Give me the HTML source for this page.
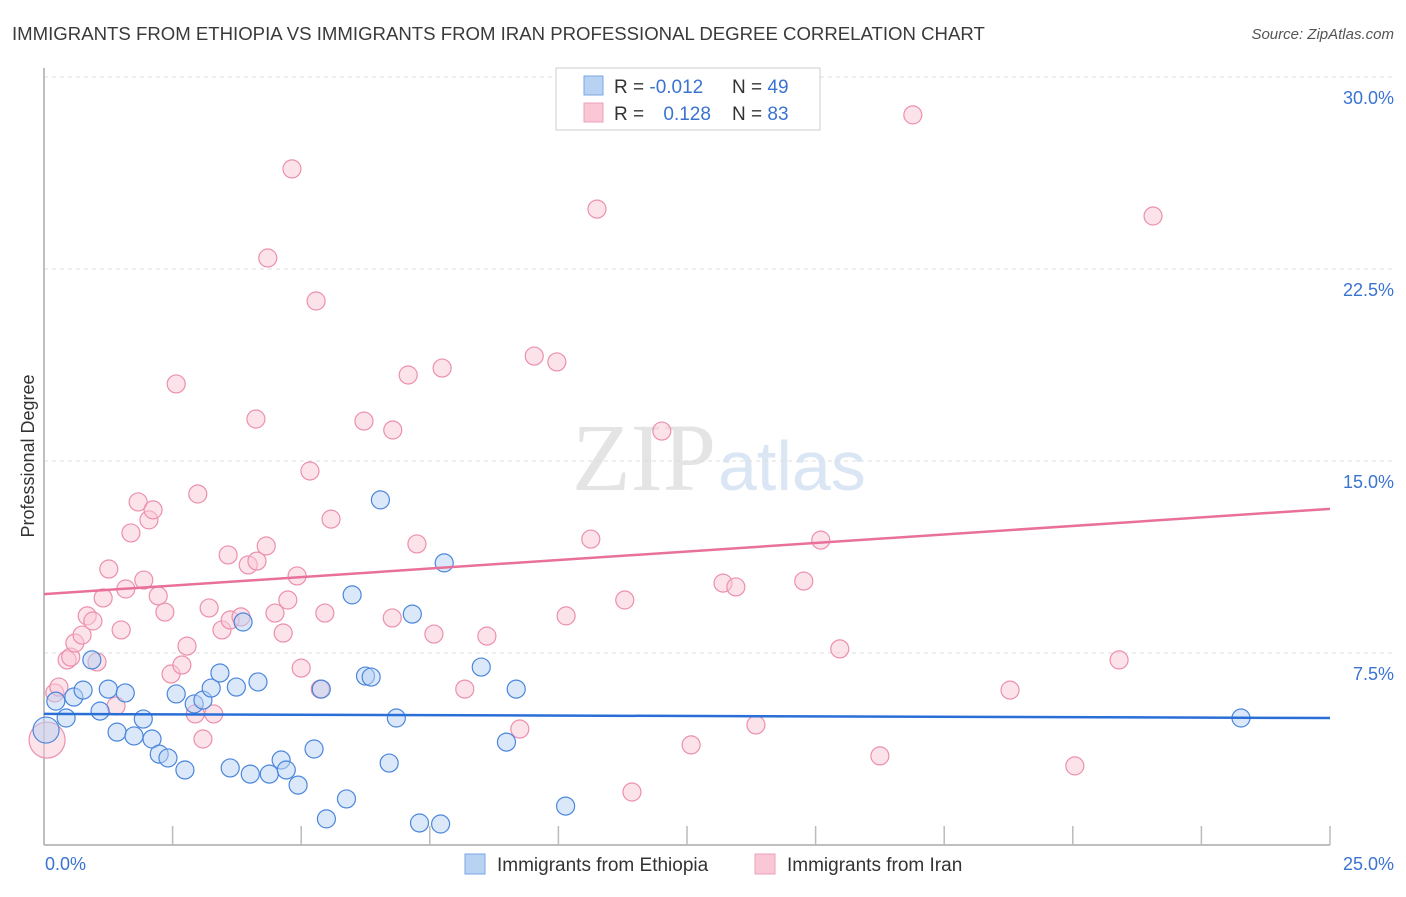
<!DOCTYPE html>
<html><head><meta charset="utf-8"><style>
body{margin:0;background:#fff;font-family:"Liberation Sans",sans-serif;}
</style></head><body>
<svg width="1406" height="892" viewBox="0 0 1406 892">
<text x="12" y="40" font-size="18.6" fill="#3a3a3a">IMMIGRANTS FROM ETHIOPIA VS IMMIGRANTS FROM IRAN PROFESSIONAL DEGREE CORRELATION CHART</text>
<text x="1394" y="39" font-size="15" fill="#555" font-style="italic" text-anchor="end">Source: ZipAtlas.com</text>
<text x="716" y="490" font-size="96" fill="#e4e4e4" text-anchor="end" font-family="Liberation Serif,serif">ZIP</text>
<text x="718" y="490" font-size="70" fill="#dbe6f5">atlas</text>
<g id="grid"></g>
<line x1="44" y1="68" x2="44" y2="845" stroke="#aaa" stroke-width="1.5"/>
<line x1="44" y1="845" x2="1330" y2="845" stroke="#aaa" stroke-width="1.5"/>
<g id="xticks"></g>
<g id="pts"></g>
<g id="trends"></g>
<text x="34" y="456" font-size="18" fill="#333" text-anchor="middle" transform="rotate(-90 34 456)">Professional Degree</text>
<text x="45" y="870" font-size="18" fill="#3b73d1">0.0%</text>
<text x="1394" y="870" font-size="18" fill="#3b73d1" text-anchor="end">25.0%</text>
<g>
<rect x="556" y="68" width="264" height="62" fill="#fff" stroke="#ccc"/>
<rect x="584" y="76" width="19" height="19" fill="#b8d2f3" stroke="#7aa5e0"/>
<rect x="584" y="103" width="19" height="19" fill="#f9c7d5" stroke="#eea0b8"/>
<text x="614" y="93" font-size="19" fill="#333">R = <tspan fill="#3b73d1">-0.012</tspan></text>
<text x="732" y="93" font-size="19" fill="#333">N = <tspan fill="#3b73d1">49</tspan></text>
<text x="614" y="120" font-size="19" fill="#333">R = <tspan fill="#3b73d1" dx="14">0.128</tspan></text>
<text x="732" y="120" font-size="19" fill="#333">N = <tspan fill="#3b73d1">83</tspan></text>
</g>
<g>
<rect x="465" y="854" width="20" height="20" fill="#b8d2f3" stroke="#7aa5e0"/>
<text x="497" y="871" font-size="19" fill="#333">Immigrants from Ethiopia</text>
<rect x="755" y="854" width="20" height="20" fill="#f9c7d5" stroke="#eea0b8"/>
<text x="787" y="871" font-size="19" fill="#333">Immigrants from Iran</text>
</g>
</svg>
<script>
const yTicks=[7.5,15,22.5,30];
const yTickLabels=["7.5%","15.0%","22.5%","30.0%"];
const xTickVals=[2.5,5,7.5,10,12.5,15,17.5,20,22.5,25];
const ethXs=[0.04,0.23,0.43,0.58,0.76,0.93,1.09,1.25,1.42,1.58,1.75,1.93,2.1,2.24,2.41,2.57,2.74,2.92,3.09,3.25,3.42,3.62,3.74,3.87,4.01,4.16,4.38,4.61,4.71,4.94,5.25,5.39,5.49,5.88,5.99,6.25,6.36,6.54,6.71,6.85,7.16,7.3,7.71,7.78,8.5,8.99,9.18,10.14,23.27];
const ethYs=[4.49,5.62,4.96,5.78,6.05,7.23,5.23,6.09,4.41,5.94,4.26,4.92,4.14,3.55,3.40,5.90,2.93,5.51,5.66,6.13,6.72,3.01,6.17,8.71,2.77,6.37,2.77,3.32,2.93,2.34,3.75,6.09,1.02,1.80,9.77,6.60,6.56,13.48,3.20,4.96,9.02,0.86,0.82,11.02,6.95,4.02,6.09,1.52,4.96];
const iranXs=[0.06,0.21,0.29,0.45,0.52,0.60,0.74,0.84,0.95,1.03,1.15,1.26,1.40,1.50,1.59,1.69,1.83,1.94,2.04,2.12,2.22,2.35,2.47,2.57,2.68,2.78,2.94,2.99,3.09,3.21,3.30,3.46,3.58,3.62,3.83,3.97,4.12,4.14,4.32,4.35,4.49,4.65,4.74,4.82,4.92,5.00,5.17,5.29,5.37,5.46,5.58,6.22,6.77,6.78,7.08,7.25,7.58,7.74,8.18,8.61,9.25,9.53,9.97,10.15,10.63,10.75,11.29,11.43,12.01,12.58,13.20,13.45,13.84,14.77,15.10,15.47,16.25,16.89,18.78,20.04,20.90,21.56];
const iranYs=[4.10,5.94,6.17,7.23,7.34,7.89,8.20,8.95,8.75,7.15,9.65,10.78,5.43,8.40,10.00,12.19,13.40,10.35,12.70,13.09,9.73,9.10,6.68,18.01,7.03,7.77,5.12,13.71,4.14,9.26,5.12,8.40,11.33,8.79,8.91,10.94,16.64,11.09,11.68,22.93,9.06,8.28,9.57,26.41,10.51,6.91,14.61,21.25,6.09,9.06,12.73,16.56,8.87,16.21,18.36,11.76,8.24,18.63,6.09,8.16,4.53,19.10,18.87,8.95,11.95,24.84,9.57,2.07,16.17,3.91,10.23,10.08,4.69,10.31,11.91,7.66,3.48,28.52,6.05,3.09,7.23,24.57];
const ethTrend=[5.12,4.96];
const iranTrend=[9.8,13.13];

const NS="http://www.w3.org/2000/svg";
const X0=44,X1=1330,Y0=845,PXY=25.6;
function sx(v){return X0+(X1-X0)*v/25;}
function sy(v){return Y0-v*PXY;}
const grid=document.getElementById('grid');
yTicks.forEach((v,i)=>{
 const l=document.createElementNS(NS,'line');
 l.setAttribute('x1',X0);l.setAttribute('x2',1394);l.setAttribute('y1',sy(v));l.setAttribute('y2',sy(v));
 l.setAttribute('stroke','#ddd');l.setAttribute('stroke-dasharray','4,4');
 
 
 grid.appendChild(l);
 const t=document.createElementNS(NS,'text');
 t.setAttribute('x',1394);t.setAttribute('y',sy(v)+27);t.setAttribute('text-anchor','end');
 t.setAttribute('font-size','18');t.setAttribute('fill','#3b73d1');t.textContent=yTickLabels[i];
 
 
 grid.appendChild(t);
});
const xt=document.getElementById('xticks');
xTickVals.forEach(v=>{
 const l=document.createElementNS(NS,'line');
 l.setAttribute('x1',sx(v));l.setAttribute('x2',sx(v));l.setAttribute('y1',826);l.setAttribute('y2',845);
 l.setAttribute('stroke','#bbb');l.setAttribute('stroke-width','1.5');
 
 
 xt.appendChild(l);
});
const pts=document.getElementById('pts');
function dot(x,y,fill,stroke,r,name){
 const c=document.createElementNS(NS,'circle');
 c.setAttribute('cx',sx(x));c.setAttribute('cy',sy(y));c.setAttribute('r',r);
 c.setAttribute('fill',fill);c.setAttribute('fill-opacity','0.5');c.setAttribute('stroke',stroke);c.setAttribute('stroke-width','1.2');
 
 
 pts.appendChild(c);
}
iranXs.forEach((x,i)=>dot(x,iranYs[i],'#f9c7d5','#ec8fae',i==0?18:9,'iran-point'));
ethXs.forEach((x,i)=>dot(x,ethYs[i],'#b8d2f3','#4a86dc',i==0?13:9,'ethiopia-point'));
const tr=document.getElementById('trends');
function line(a,col,name){
 const l=document.createElementNS(NS,'line');
 l.setAttribute('x1',sx(0));l.setAttribute('x2',sx(25));l.setAttribute('y1',sy(a[0]));l.setAttribute('y2',sy(a[1]));
 l.setAttribute('stroke',col);l.setAttribute('stroke-width','2.5');
 
 
 tr.appendChild(l);
}
line(iranTrend,'#e8709a','iran-trend-line');
line(ethTrend,'#2a6fd6','ethiopia-trend-line');
</script>
</body></html>
